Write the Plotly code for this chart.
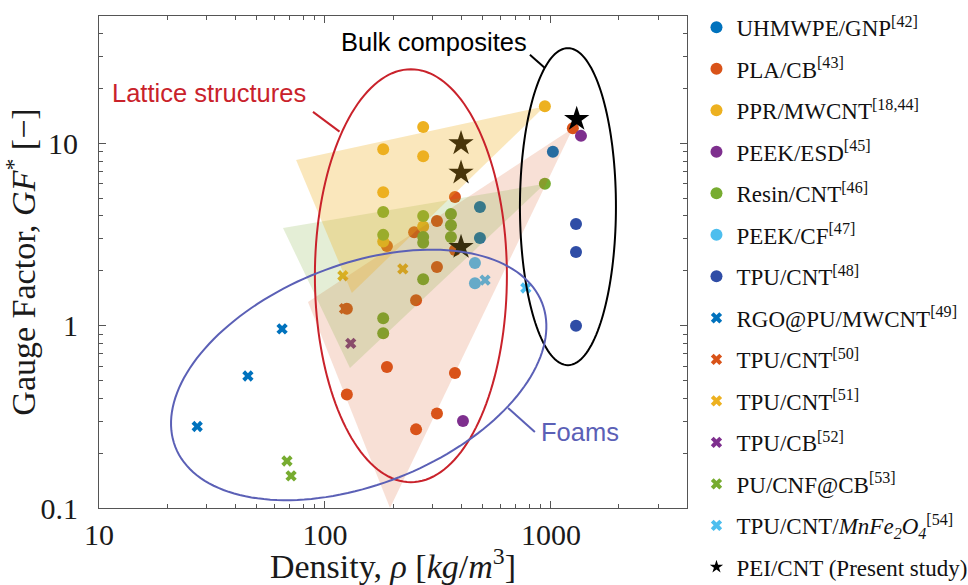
import numpy as np
import plotly.graph_objects as go

# ---------------- data: density rho [kg/m^3] vs gauge factor GF* [-] ----------------
uhmwpe_gnp_rho = [1020, 485, 485]
uhmwpe_gnp_gf = [9.0, 4.48, 3.03]

pla_cb_rho = [376, 313, 248, 188, 376, 313, 253, 1250, 125, 188, 376, 125, 313, 253]
pla_cb_gf = [5.08, 3.75, 3.26, 2.74, 2.60, 2.10, 1.38, 12.1, 1.24, 0.593, 0.55, 0.42, 0.33, 0.27]

ppr_mwcnt_rho = [940, 272, 181, 272, 181, 272, 181]
ppr_mwcnt_gf = [16.0, 12.3, 9.3, 8.5, 5.4, 3.5, 2.9]

peek_esd_rho = [1358, 408]
peek_esd_gf = [11.0, 0.30]

resin_cnt_rho = [181, 181, 272, 272, 272, 361, 361, 361, 272, 940, 181, 181]
resin_cnt_gf = [4.2, 3.15, 4.0, 3.07, 2.85, 4.1, 3.56, 3.07, 1.80, 6.0, 1.10, 0.91]

peek_cf_rho = [461, 461]
peek_cf_gf = [2.21, 1.71]

tpu_cnt48_rho = [1291, 1291, 1291]
tpu_cnt48_gf = [3.61, 2.54, 1.0]

rgo_pu_rho = [64.6, 45.6, 27.2]
rgo_pu_gf = [0.96, 0.53, 0.28]

tpu_cnt50_rho = [122]
tpu_cnt50_gf = [1.24]

tpu_cnt51_rho = [120, 221]
tpu_cnt51_gf = [1.88, 2.05]

tpu_cb_rho = [130]
tpu_cb_gf = [0.80]

pu_cnf_rho = [67.9, 70.8]
pu_cnf_gf = [0.181, 0.150]

tpu_mnfe_rho = [511, 774]
tpu_mnfe_gf = [1.78, 1.61]

pei_cnt_rho = [400, 400, 400, 1300]
pei_cnt_gf = [10.0, 6.9, 2.70, 13.6]

# shaded fans: two low-density corners, apex at the bulk sample of the same family
fan_ppr_rho = [74.5, 131.5, ppr_mwcnt_rho[0]]
fan_ppr_gf = [8.1, 1.51, ppr_mwcnt_gf[0]]
fan_resin_rho = [65.2, 129, resin_cnt_rho[9]]
fan_resin_gf = [3.44, 0.586, resin_cnt_gf[9]]
fan_pla_rho = [84.1, 194, pla_cb_rho[7]]
fan_pla_gf = [1.35, 0.1, pla_cb_gf[7]]

x_ticks = [10, 100, 1000]
y_ticks = [0.1, 1, 10]

# ---------------- styling ----------------
C_BLUE = "#0072BD"
C_ORANGE = "#D95319"
C_YELLOW = "#EDB120"
C_PURPLE = "#7E2F8E"
C_GREEN = "#77AC30"
C_CYAN = "#4DBEEE"
C_NAVY = "#2F4DA6"

SERIF = "Liberation Serif"
SANS = "Liberation Sans"

W, H = 968, 585
M_L, M_R, M_T, M_B = 99, 281, 16, 77
PLOT_W = W - M_L - M_R
PLOT_H = H - M_T - M_B
X_RANGE = (1.0, np.log10(4000))
Y_RANGE = (-1.0, np.log10(50))

fig = go.Figure()

series = [
    ("UHMWPE/GNP<sup>[42]</sup>", uhmwpe_gnp_rho, uhmwpe_gnp_gf, "circle", C_BLUE),
    ("PLA/CB<sup>[43]</sup>", pla_cb_rho, pla_cb_gf, "circle", C_ORANGE),
    ("PPR/MWCNT<sup>[18,44]</sup>", ppr_mwcnt_rho, ppr_mwcnt_gf, "circle", C_YELLOW),
    ("PEEK/ESD<sup>[45]</sup>", peek_esd_rho, peek_esd_gf, "circle", C_PURPLE),
    ("Resin/CNT<sup>[46]</sup>", resin_cnt_rho, resin_cnt_gf, "circle", C_GREEN),
    ("PEEK/CF<sup>[47]</sup>", peek_cf_rho, peek_cf_gf, "circle", C_CYAN),
    ("TPU/CNT<sup>[48]</sup>", tpu_cnt48_rho, tpu_cnt48_gf, "circle", C_NAVY),
    ("RGO@PU/MWCNT<sup>[49]</sup>", rgo_pu_rho, rgo_pu_gf, "x", C_BLUE),
    ("TPU/CNT<sup>[50]</sup>", tpu_cnt50_rho, tpu_cnt50_gf, "x", C_ORANGE),
    ("TPU/CNT<sup>[51]</sup>", tpu_cnt51_rho, tpu_cnt51_gf, "x", C_YELLOW),
    ("TPU/CB<sup>[52]</sup>", tpu_cb_rho, tpu_cb_gf, "x", C_PURPLE),
    ("PU/CNF@CB<sup>[53]</sup>", pu_cnf_rho, pu_cnf_gf, "x", C_GREEN),
    ("TPU/CNT/<i>MnFe<sub>2</sub>O<sub>4</sub></i><sup>[54]</sup>", tpu_mnfe_rho, tpu_mnfe_gf, "x", C_CYAN),
]

for i, (name, xs, ys, sym, col) in enumerate(series):
    fig.add_trace(go.Scatter(
        x=xs, y=ys, mode="markers", name=name, legendgroup=f"g{i}",
        marker=dict(symbol=sym, size=12 if sym == "circle" else 10, color=col,
                    line=dict(width=0)),
    ))

# present study: large stars in the plot, compact star in the legend
fig.add_trace(go.Scatter(
    x=pei_cnt_rho, y=pei_cnt_gf, mode="markers", showlegend=False,
    marker=dict(symbol="star", size=19, color="black", line=dict(width=0)),
))
fig.add_trace(go.Scatter(
    x=[None], y=[None], mode="markers", name="PEI/CNT (Present study)",
    legendgroup="g_pei",
    marker=dict(symbol="star", size=10, color="black", line=dict(width=0)),
))

# translucent fans drawn over the markers
for fx, fy, col, alpha in [(fan_pla_rho, fan_pla_gf, (217, 83, 25), 0.18),
                           (fan_resin_rho, fan_resin_gf, (119, 172, 48), 0.20),
                           (fan_ppr_rho, fan_ppr_gf, (237, 177, 32), 0.30)]:
    fig.add_trace(go.Scatter(
        x=fx, y=fy, mode="lines", fill="toself", showlegend=False, hoverinfo="skip",
        line=dict(width=0), fillcolor=f"rgba({col[0]},{col[1]},{col[2]},{alpha})",
    ))


def to_paper(rho, gf):
    px = (np.log10(rho) - X_RANGE[0]) / (X_RANGE[1] - X_RANGE[0])
    py = (np.log10(gf) - Y_RANGE[0]) / (Y_RANGE[1] - Y_RANGE[0])
    return px, py


def ellipse_path(rho_c, gf_c, a_px, b_px, angle_deg, n=160):
    cx, cy = to_paper(rho_c, gf_c)
    t = np.linspace(0, 2 * np.pi, n, endpoint=False)
    th = np.radians(angle_deg)
    dx = a_px * np.cos(t) * np.cos(th) - b_px * np.sin(t) * np.sin(th)
    dy = a_px * np.cos(t) * np.sin(th) + b_px * np.sin(t) * np.cos(th)
    xs = cx + dx / PLOT_W
    ys = cy + dy / PLOT_H
    return "M " + " L ".join(f"{x:.5f},{y:.5f}" for x, y in zip(xs, ys)) + " Z"


C_LATTICE = "#C9222B"
C_FOAM = "#5B60B6"
C_BULK = "black"

groups = [
    # (centre rho, centre GF, semi-axis a [px], semi-axis b [px], tilt, colour)
    (1189, 4.5, 48, 158.5, 0, C_BULK),
    (240, 1.88, 96, 206.5, 0, C_LATTICE),
    (141, 0.537, 197, 110, 21.5, C_FOAM),
]
shapes = []
for rc, gc, a, b, ang, col in groups:
    shapes.append(dict(type="path", xref="paper", yref="paper",
                       path=ellipse_path(rc, gc, a, b, ang),
                       line=dict(color=col, width=2), fillcolor="rgba(0,0,0,0)"))

leaders = [
    ((88.5, 14.9), (116, 11.6), C_LATTICE),
    ((807, 30.6), (940, 25.9), C_BULK),
    ((849, 0.261), (646, 0.354), C_FOAM),
]
for (r0, g0), (r1, g1), col in leaders:
    x0, y0 = to_paper(r0, g0)
    x1, y1 = to_paper(r1, g1)
    shapes.append(dict(type="line", xref="paper", yref="paper", x0=x0, y0=y0,
                       x1=x1, y1=y1, line=dict(color=col, width=2)))

labels = [
    ("Lattice structures", 30.7, 18.9, C_LATTICE),
    ("Bulk composites", 303, 36, C_BULK),
    ("Foams", 1343, 0.261, C_FOAM),
]
annotations = [
    dict(text=t, x=np.log10(r), y=np.log10(g), xref="x", yref="y", showarrow=False,
         font=dict(family=SANS, size=25.5, color=c), xanchor="center", yanchor="middle")
    for t, r, g, c in labels
]

minor_x = [m * 10 ** d for d in (1, 2, 3) for m in range(2, 10) if m * 10 ** d <= 4000]
minor_y = [m * 10 ** d for d in (-1, 0, 1) for m in range(2, 10) if m * 10 ** d <= 50]

AX_COL = "#555555"
common_axis = dict(
    type="log", showgrid=False, zeroline=False, showline=True, linecolor=AX_COL,
    linewidth=1, mirror="ticks", ticks="inside", ticklen=7, tickwidth=1,
    tickcolor=AX_COL, tickfont=dict(family=SERIF, size=30, color="#1a1a1a"),
    automargin=False,
)

fig.update_layout(
    width=W, height=H,
    margin=dict(l=M_L, r=M_R, t=M_T, b=M_B, autoexpand=False),
    plot_bgcolor="white", paper_bgcolor="white",
    font=dict(family=SERIF, color="#1a1a1a"),
    showlegend=True,
    legend=dict(xref="container", yref="container", x=0.7195, xanchor="left",
                y=0.990, yanchor="top",
                font=dict(family=SERIF, size=23, color="#111111"),
                tracegroupgap=8.6, itemwidth=30, bgcolor="rgba(0,0,0,0)",
                maxheight=700),
    xaxis=dict(common_axis, range=list(X_RANGE), tickvals=x_ticks,
               ticktext=[str(v) for v in x_ticks], ticklabelstandoff=0,
               minor=dict(tickvals=minor_x, ticks="inside", ticklen=4, tickcolor=AX_COL),
               title=dict(text="Density, <i>ρ</i> [<i>kg</i>/<i>m</i><sup>3</sup>]",
                          font=dict(family=SERIF, size=34), standoff=7)),
    yaxis=dict(common_axis, range=list(Y_RANGE), tickvals=y_ticks,
               ticktext=["0.1", "1", "10"], ticklabelstandoff=14,
               minor=dict(tickvals=minor_y, ticks="inside", ticklen=4, tickcolor=AX_COL),
               title=dict(text="Gauge Factor, <i>GF</i><sup>*</sup> [−]",
                          font=dict(family=SERIF, size=34), standoff=4)),
    shapes=shapes,
    annotations=annotations,
)

fig.write_html("out.html")
